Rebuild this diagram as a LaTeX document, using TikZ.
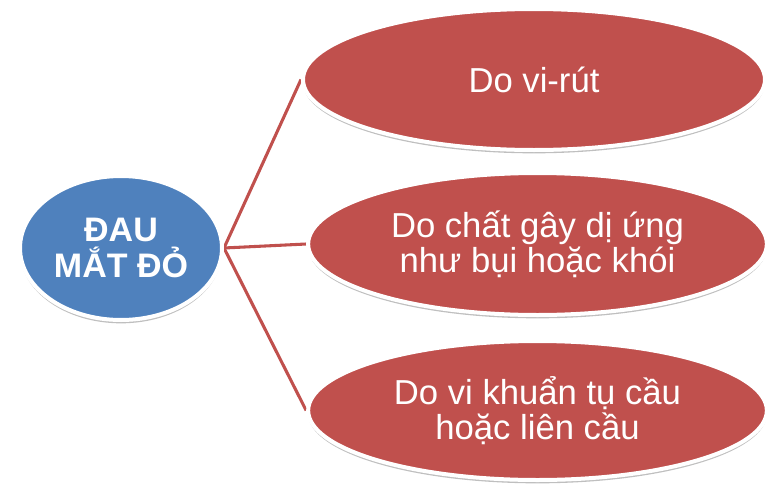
\documentclass[tikz,border=0pt]{standalone}
\usepackage{fontspec}
\setmainfont{Liberation Sans}
\usetikzlibrary{shapes.geometric,shadows,backgrounds}
\definecolor{accred}{HTML}{C0504D}
\definecolor{accblue}{HTML}{4F81BD}
\tikzset{
  bubble/.style={ellipse, draw=white, line width=3pt, text=white, align=center, inner sep=0pt,
    drop shadow={shadow xshift=0pt, shadow yshift=-2.5pt, opacity=0.25, fill=black}},
  mainbubble/.style={bubble, fill=accblue, minimum width=151.5pt, minimum height=108pt,
    font=\fontsize{25.5}{27}\selectfont\bfseries},
  causebubble/.style={bubble, fill=accred, font=\fontsize{26}{26.25}\selectfont},
  link/.style={draw=accred, line width=2.3pt}
}
\begin{document}
\begin{tikzpicture}[x=0.75pt,y=0.75pt]
\useasboundingbox (0,0) rectangle (767,-489);
\node[mainbubble] (main) at (121,-248) {ĐAU\\MẮT ĐỎ};
\node[causebubble, minimum width=346.5pt, minimum height=105.75pt] (c1) at (534,-79.5) {Do vi-rút};
\node[causebubble, minimum width=344pt, minimum height=106.5pt] (c2) at (537.5,-244) {Do chất gây dị ứng\\như bụi hoặc khói};
\node[causebubble, minimum width=344pt, minimum height=104.25pt] (c3) at (537.5,-410.5) {Do vi khuẩn tụ cầu\\hoặc liên cầu};
\begin{scope}[on background layer]
\draw[link] (main.east) -- (c1.west);
\draw[link] (main.east) -- (c2.west);
\draw[link] (main.east) -- (c3.west);
\end{scope}
\end{tikzpicture}
\end{document}
